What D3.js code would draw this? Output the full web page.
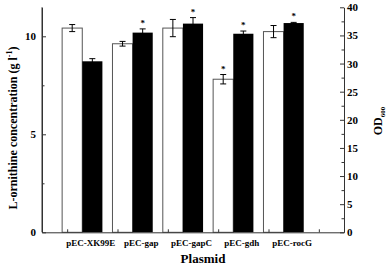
<!DOCTYPE html>
<html>
<head>
<meta charset="utf-8">
<script src="https://cdn.jsdelivr.net/npm/d3@7"></script>
<style>
  body { margin: 0; background: #fff; }
  text { font-family: "Liberation Serif", "DejaVu Serif", serif; font-weight: bold; }
  .axis path, .axis line { stroke: #333; }
</style>
</head>
<body>
<script>
// data
var plasmids = ["pEC-XK99E", "pEC-gap", "pEC-gapC", "pEC-gdh", "pEC-rocG"];
var ornithine = [10.42, 9.62, 10.42, 7.81, 10.24];   // g/l, white bars
var ornErr = [0.18, 0.12, 0.44, 0.24, 0.31];
var od = [30.4, 35.5, 37.1, 35.3, 37.2];              // OD600, black bars
var odErr = [0.47, 0.66, 1.07, 0.48, 0.12];
var ornStar = [false, false, false, true, false];
var odStar = [false, true, true, true, true];

var width = 388, height = 270;
var plotLeft = 42, plotRight = 344, plotTop = 7.3, plotBottom = 232.3;

var svg = d3.select("body").append("svg")
    .attr("width", width)
    .attr("height", height);

var x = d3.scaleLinear().domain([0, 6]).range([plotLeft, plotRight]);
var yL = d3.scaleLinear().domain([0, 11.48]).range([plotBottom, plotTop]);
var yR = d3.scaleLinear().domain([0, 40]).range([plotBottom, plotTop]);
var barW = 0.4; // in x units

// bars: white = ornithine (left axis), black = OD (right axis)
plasmids.forEach(function (p, i) {
    var c = i + 0.8;
    svg.append("rect")
        .attr("x", x(c - barW)).attr("y", yL(ornithine[i]))
        .attr("width", x(c) - x(c - barW)).attr("height", plotBottom - yL(ornithine[i]))
        .attr("fill", "#fff").attr("stroke", "#555").attr("stroke-width", 1);
    svg.append("rect")
        .attr("x", x(c)).attr("y", yR(od[i]))
        .attr("width", x(c + barW) - x(c)).attr("height", plotBottom - yR(od[i]))
        .attr("fill", "#000");
});

// error bars
function errBar(cx, v, e, y, star) {
    var g = svg.append("g").attr("stroke", "#000").attr("stroke-width", 1);
    g.append("line").attr("x1", cx).attr("x2", cx).attr("y1", y(v - e)).attr("y2", y(v + e));
    g.append("line").attr("x1", cx - 3).attr("x2", cx + 3).attr("y1", y(v - e)).attr("y2", y(v - e));
    g.append("line").attr("x1", cx - 3).attr("x2", cx + 3).attr("y1", y(v + e)).attr("y2", y(v + e));
    if (star) {
        svg.append("text").attr("x", cx).attr("y", y(v + e) - 3)
            .attr("text-anchor", "middle").attr("font-size", 9).text("*");
    }
}
plasmids.forEach(function (p, i) {
    var c = i + 0.8;
    errBar((x(c - barW) + x(c)) / 2, ornithine[i], ornErr[i], yL, ornStar[i]);
    errBar((x(c) + x(c + barW)) / 2, od[i], odErr[i], yR, odStar[i]);
});

// axes
var yAxisL = d3.axisLeft(yL).tickValues([0, 5, 10]).tickFormat(d3.format("d"))
    .tickSize(-4).tickSizeOuter(0).tickPadding(6);
var gl = svg.append("g").attr("class", "axis").attr("transform", "translate(" + plotLeft + ",0)").call(yAxisL);
gl.selectAll("text").attr("font-size", 11).attr("fill", "#000");
svg.append("g").attr("class", "axis").attr("transform", "translate(" + plotLeft + ",0)")
    .call(d3.axisLeft(yL).tickValues([2.5, 7.5]).tickFormat("").tickSize(-2.5).tickSizeOuter(0))
    .select(".domain").remove();
svg.append("line").attr("x1", plotLeft).attr("x2", plotLeft).attr("y1", plotTop).attr("y2", plotBottom).attr("stroke", "#333");

var yAxisR = d3.axisRight(yR).tickValues(d3.range(0, 41, 5)).tickSize(-4).tickSizeOuter(0).tickPadding(3);
var gr = svg.append("g").attr("class", "axis").attr("transform", "translate(" + plotRight + ",0)").call(yAxisR);
gr.selectAll("text").attr("font-size", 11).attr("fill", "#000");
svg.append("g").attr("class", "axis").attr("transform", "translate(" + plotRight + ",0)")
    .call(d3.axisRight(yR).tickValues(d3.range(2.5, 40, 5)).tickFormat("").tickSize(-2.5).tickSizeOuter(0))
    .select(".domain").remove();

var xAxis = d3.axisBottom(x).tickValues(d3.range(0.5, 6, 1)).tickFormat("").tickSize(-3).tickSizeOuter(0);
svg.append("g").attr("class", "axis").attr("transform", "translate(0," + plotBottom + ")").call(xAxis);

// category labels
svg.selectAll(".cat").data(plasmids).enter().append("text")
    .attr("class", "cat")
    .attr("x", function (d, i) { return x(i + 0.97); })
    .attr("y", 246)
    .attr("text-anchor", "middle").attr("font-size", 9)
    .text(function (d) { return d; });

// titles
svg.append("text").attr("x", 203).attr("y", 263).attr("text-anchor", "middle")
    .attr("font-size", 13).text("Plasmid");

var lt = svg.append("text").attr("transform", "translate(17,128) rotate(-90)")
    .attr("text-anchor", "middle").attr("font-size", 12);
lt.append("tspan").text("L-ornithine concentration (g l");
lt.append("tspan").attr("dy", -5).attr("font-size", 8).text("-1");
lt.append("tspan").attr("dy", 5).text(")");

var rt = svg.append("text").attr("transform", "translate(382,121) rotate(-90)")
    .attr("text-anchor", "middle").attr("font-size", 12);
rt.append("tspan").text("OD");
rt.append("tspan").attr("dy", 3).attr("font-size", 7).text("600");
</script>
</body>
</html>
